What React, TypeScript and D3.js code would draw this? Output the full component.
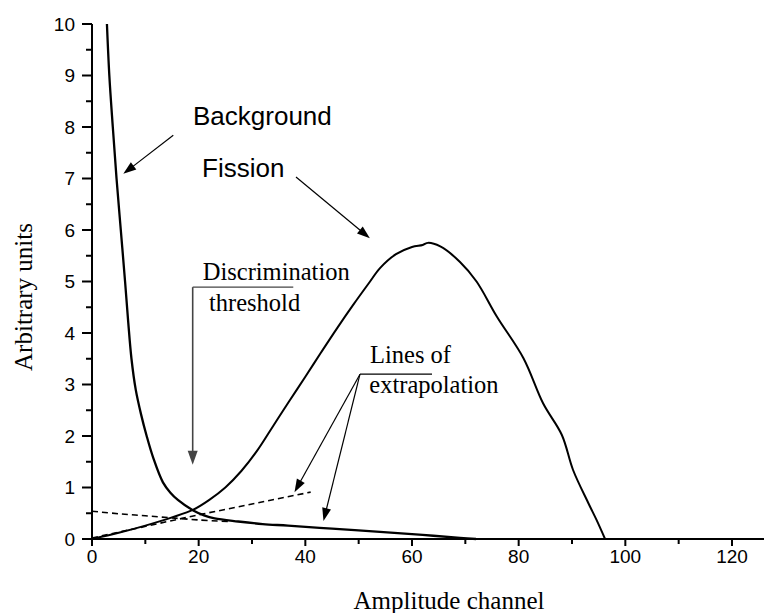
import React from "react";
import * as d3 from "d3";

// ---- data ----
const fissionX = [0, 5, 10, 15, 19, 22, 25, 28, 31, 34, 37, 40, 43, 46, 49, 52, 54, 57, 60, 62, 63, 65.3, 69, 72.1, 75.9, 80.9, 84.6, 88.1, 90.2, 93.1, 94.6, 96.2];
const fissionY = [0, 0.12, 0.26, 0.42, 0.57, 0.76, 1.0, 1.32, 1.72, 2.2, 2.68, 3.15, 3.63, 4.1, 4.55, 4.98, 5.26, 5.53, 5.67, 5.71, 5.75, 5.68, 5.38, 5.0, 4.32, 3.51, 2.63, 2.02, 1.34, 0.69, 0.37, 0];

const bgX = [2.8, 3.25, 3.9, 4.6, 5.4, 6.2, 6.8, 7.4, 8.2, 9.2, 10.25, 11.5, 13.3, 14.7, 16.1, 18.9, 21, 23, 27.4, 32, 36.75, 45, 54, 62, 69, 72];
const bgY = [10, 9, 8, 7, 6, 5, 4.2, 3.5, 2.9, 2.42, 2.0, 1.57, 1.1, 0.9, 0.76, 0.56, 0.46, 0.4, 0.34, 0.29, 0.26, 0.2, 0.14, 0.08, 0.02, 0];

const bgExtX = [0, 5, 10, 15, 20, 25.5];
const bgExtY = [0.54, 0.49, 0.45, 0.41, 0.37, 0.34];

const fisExtX = [0, 20, 41];
const fisExtY = [0.02, 0.47, 0.91];

const xMajorTicks = [0, 20, 40, 60, 80, 100, 120];
const xMinorTicks = [10, 30, 50, 70, 90, 110];
const yMajorTicks = [0, 1, 2, 3, 4, 5, 6, 7, 8, 9, 10];
const yMinorTicks = [0.5, 1.5, 2.5, 3.5, 4.5, 5.5, 6.5, 7.5, 8.5, 9.5];

const xTitle = "Amplitude channel";
const yTitle = "Arbitrary units";

const W = 764;
const H = 613;

const SANS = "'Liberation Sans', Arial, sans-serif";
const SERIF = "'Liberation Serif', 'Times New Roman', serif";

function Arrow({ x1, y1, x2, y2, len = 13, half = 4.5, color = "#000", sw = 1.2 }: any) {
  const dx = x2 - x1;
  const dy = y2 - y1;
  const L = Math.hypot(dx, dy);
  const ux = dx / L;
  const uy = dy / L;
  const bx = x2 - ux * len;
  const by = y2 - uy * len;
  const px = -uy;
  const py = ux;
  const pts = `${x2},${y2} ${bx + px * half},${by + py * half} ${bx - px * half},${by - py * half}`;
  return (
    <g>
      <line x1={x1} y1={y1} x2={bx + ux * 2} y2={by + uy * 2} stroke={color} strokeWidth={sw} />
      <polygon points={pts} fill={color} />
    </g>
  );
}

export default function App() {
  const x = d3.scaleLinear().domain([0, 126]).range([92, 764]);
  const y = d3.scaleLinear().domain([0, 10]).range([539, 24]);

  const smooth = d3
    .line<[number, number]>()
    .x((d) => x(d[0]))
    .y((d) => y(d[1]))
    .curve(d3.curveCatmullRom.alpha(0.5));
  const lineLin = d3
    .line<[number, number]>()
    .x((d) => x(d[0]))
    .y((d) => y(d[1]))
    .curve(d3.curveLinear);

  const fission = fissionX.map((v, i) => [v, fissionY[i]] as [number, number]);
  const bg = bgX.map((v, i) => [v, bgY[i]] as [number, number]);
  const bgExt = bgExtX.map((v, i) => [v, bgExtY[i]] as [number, number]);
  const fisExt = fisExtX.map((v, i) => [v, fisExtY[i]] as [number, number]);

  return (
    <svg
      width={W}
      height={H}
      style={{ position: "absolute", left: 0, top: 0, background: "#fff" }}
    >
      <rect x={0} y={0} width={W} height={H} fill="#fff" />

      {/* dashed extrapolation lines */}
      <path d={smooth(bgExt) || ""} fill="none" stroke="#000" strokeWidth={1.6} strokeDasharray="6,4" />
      <path d={lineLin(fisExt) || ""} fill="none" stroke="#000" strokeWidth={1.6} strokeDasharray="6,4" />

      {/* curves */}
      <path d={smooth(bg) || ""} fill="none" stroke="#000" strokeWidth={2.3} />
      <path d={smooth(fission) || ""} fill="none" stroke="#000" strokeWidth={2} />

      {/* axes */}
      <line x1={x(0)} y1={y(0)} x2={W} y2={y(0)} stroke="#000" strokeWidth={2} />
      <line x1={x(0)} y1={y(10)} x2={x(0)} y2={y(0)} stroke="#000" strokeWidth={2} />

      {xMajorTicks.map((t) => (
        <g key={"xm" + t}>
          <line x1={x(t)} y1={y(0)} x2={x(t)} y2={y(0) + 7} stroke="#000" strokeWidth={2} />
          <text x={x(t)} y={563} textAnchor="middle" fontFamily={SANS} fontSize={19} fill="#000">
            {t}
          </text>
        </g>
      ))}
      {xMinorTicks.map((t) => (
        <line key={"xn" + t} x1={x(t)} y1={y(0)} x2={x(t)} y2={y(0) + 5} stroke="#000" strokeWidth={2} />
      ))}
      {yMajorTicks.map((t) => (
        <g key={"ym" + t}>
          <line x1={x(0) - 10} y1={y(t)} x2={x(0)} y2={y(t)} stroke="#000" strokeWidth={2} />
          <text x={75} y={y(t)} dy="0.35em" textAnchor="end" fontFamily={SANS} fontSize={19} fill="#000">
            {t}
          </text>
        </g>
      ))}
      {yMinorTicks.map((t) => (
        <line key={"yn" + t} x1={x(0) - 6} y1={y(t)} x2={x(0)} y2={y(t)} stroke="#000" strokeWidth={2} />
      ))}

      {/* axis titles */}
      <text x={449} y={609} textAnchor="middle" fontFamily={SERIF} fontSize={25} fill="#000">
        {xTitle}
      </text>
      <text
        transform={`translate(32,297) rotate(-90)`}
        textAnchor="middle"
        fontFamily={SERIF}
        fontSize={25}
        fill="#000"
      >
        {yTitle}
      </text>

      {/* annotations */}
      <text x={x(18.94)} y={y(8.04)} fontFamily={SANS} fontSize={26} fill="#000">
        Background
      </text>
      <Arrow x1={x(15.24)} y1={y(7.84)} x2={x(5.87)} y2={y(7.09)} />

      <text x={x(20.63)} y={y(7.03)} fontFamily={SANS} fontSize={26} fill="#000">
        Fission
      </text>
      <Arrow x1={x(38.25)} y1={y(7.03)} x2={x(52.1)} y2={y(5.84)} />

      <text x={x(20.76)} y={y(5.03)} fontFamily={SERIF} fontSize={24.5} fill="#000">
        Discrimination
      </text>
      <text x={x(21.94)} y={y(4.42)} fontFamily={SERIF} fontSize={24.5} fill="#000">
        threshold
      </text>
      <line x1={x(18.88)} y1={y(4.89)} x2={x(37.74)} y2={y(4.89)} stroke="#444" strokeWidth={1.3} />
      <Arrow x1={x(18.88)} y1={y(4.89)} x2={x(18.88)} y2={y(1.44)} color="#444" sw={1.6} len={14} half={5} />

      <text x={x(52.13)} y={y(3.41)} fontFamily={SERIF} fontSize={24.5} fill="#000">
        Lines of
      </text>
      <text x={x(52.0)} y={y(2.83)} fontFamily={SERIF} fontSize={24.5} fill="#000">
        extrapolation
      </text>
      <line x1={x(50.25)} y1={y(3.2)} x2={x(63.75)} y2={y(3.2)} stroke="#000" strokeWidth={1.2} />
      <Arrow x1={x(50.25)} y1={y(3.2)} x2={x(37.97)} y2={y(0.91)} />
      <Arrow x1={x(50.25)} y1={y(3.2)} x2={x(43.4)} y2={y(0.35)} />
    </svg>
  );
}
